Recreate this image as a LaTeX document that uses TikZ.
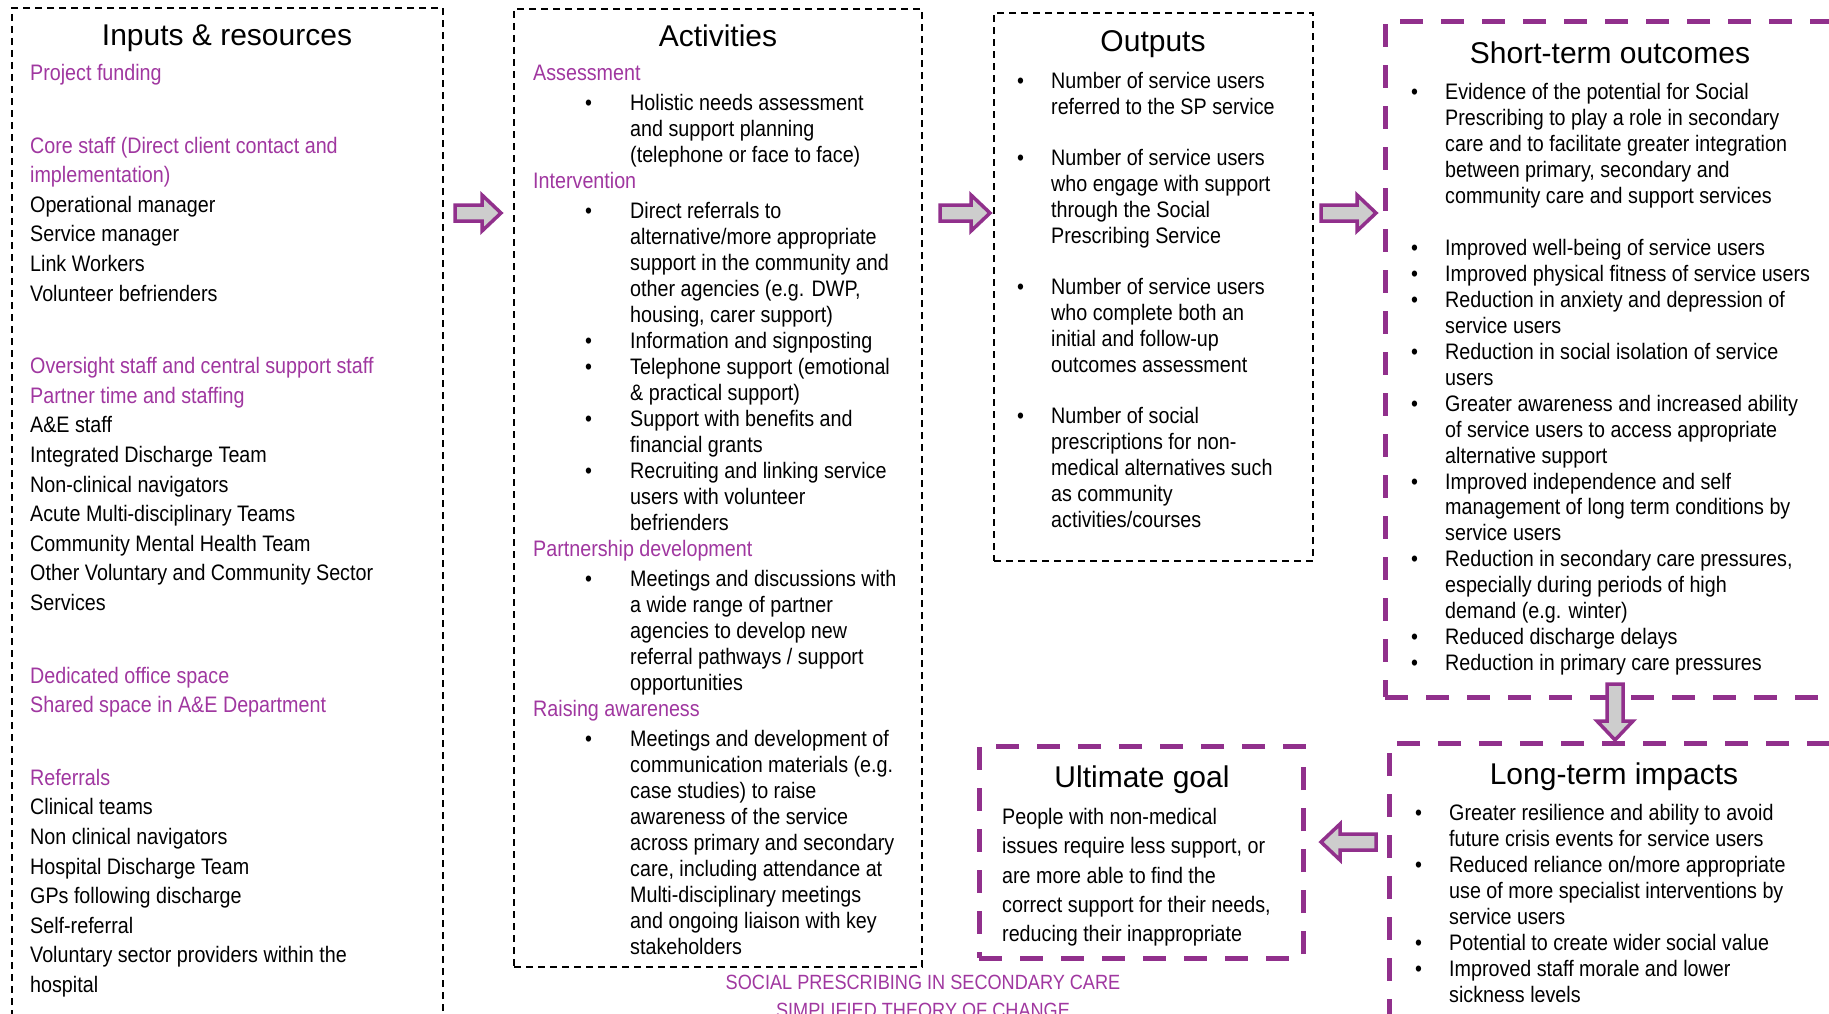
\documentclass[tikz,border=0pt]{standalone}
\usepackage{fontspec}
\setmainfont{Liberation Sans}[FakeStretch=0.88]
\newfontfamily\ttlfont{Liberation Sans}
\usepackage{xcolor}
\usepackage{tikz}
\usetikzlibrary{calc}

\definecolor{hdpurple}{RGB}{160,55,160}
\definecolor{boxpurple}{RGB}{145,48,140}
\definecolor{arrgray}{RGB}{205,205,205}

\newlength{\bulin}
\newlength{\bulwd}
\newcommand{\purp}[1]{\textcolor{hdpurple}{#1}}
\newcommand{\bitem}{\hspace*{\bulin}\makebox[\bulwd][l]{\textbullet}}
\newcommand{\bcont}{\hspace*{\bulin}\hspace*{\bulwd}}
\newcommand{\blockarrow}[2]{%
  \coordinate (hb) at ($(#2)!19bp!(#1)$);
  \draw[barr] ($(#1)!8bp!90:(#2)$) -- ($(hb)!8bp!90:(#2)$) -- ($(hb)!18bp!90:(#2)$)
    -- (#2) -- ($(hb)!18bp!-90:(#2)$) -- ($(hb)!8bp!-90:(#2)$)
    -- ($(#1)!8bp!-90:(#2)$) -- cycle;}

\begin{document}
\begin{tikzpicture}[x=1bp,y=-1bp,
  tbox/.style={draw,dash pattern=on 7bp off 5bp,line width=1.6bp,anchor=north west,inner sep=0pt,outer sep=0pt},
  pbox/.style={draw=boxpurple,dash pattern=on 23bp off 18bp,line width=5bp,anchor=north west,inner sep=0pt,outer sep=0pt},
  ttl/.style={anchor=base,inner sep=0pt,font=\ttlfont\fontsize{30bp}{36bp}\selectfont},
  txt/.style={anchor=north west,align=left,inner sep=0pt,font=\fontsize{22.4bp}{26bp}\selectfont,
    execute at begin node={\rule{0pt}{20bp}}},
  lst/.style 2 args={txt,execute at begin node={\global\bulin=#1\global\bulwd=#2\rule{0pt}{20bp}}},
  barr/.style={draw=boxpurple,fill=arrgray,line width=3.5bp}]
\path[use as bounding box,fill=white] (0,0) rectangle (1829,1013);
\clip (0,0) rectangle (1829,1013);

\node[tbox,minimum width=431bp,minimum height=1040bp] (inp) at (12,8) {};
\node[tbox,minimum width=408bp,minimum height=958bp] (act) at (514,9) {};
\node[tbox,minimum width=319bp,minimum height=548bp] (outp) at (994,13) {};
\node[pbox,minimum width=460bp,minimum height=676bp] (short) at (1385,21) {};
\node[pbox,minimum width=460bp,minimum height=300bp] (long) at (1389,743) {};
\node[pbox,minimum width=324bp,minimum height=212bp] (goal) at (979,746) {};

\coordinate (a1s) at ($(inp.north east)+(12,205)$);
\coordinate (a1e) at ($(act.north west)+(-13,204)$);
\coordinate (a2s) at ($(act.north east)+(18,204)$);
\coordinate (a2e) at ($(outp.north west)+(-4,200)$);
\coordinate (a3s) at ($(outp.north east)+(8,200)$);
\coordinate (a3e) at ($(short.north west)+(-9,192)$);
\coordinate (a4s) at ($(short.south west)+(230,-13)$);
\coordinate (a4e) at ($(long.north west)+(226,-3)$);
\coordinate (a5s) at ($(long.north west)+(-13,99)$);
\coordinate (a5e) at ($(goal.north east)+(18,96)$);
\blockarrow{a1s}{a1e}
\blockarrow{a2s}{a2e}
\blockarrow{a3s}{a3e}
\blockarrow{a4s}{a4e}
\blockarrow{a5s}{a5e}

\node[ttl] (inptit) at (227,45) {Inputs \& resources};
\node[ttl] (acttit) at (718,46) {Activities};
\node[ttl] (outtit) at (1153,51) {Outputs};
\node[ttl] (shorttit) at (1610,63) {Short-term outcomes};
\node[ttl] (longtit) at (1614,784) {Long-term impacts};
\node[ttl] (goaltit) at (1142,787) {Ultimate goal};

\node[txt,font=\fontsize{22.4bp}{29.6bp}\selectfont] (inptxt) at (30,64) {%
  \purp{Project funding}\\[43bp]
  \purp{Core staff (Direct client contact and}\\
  \purp{implementation)}\\
  Operational manager\\
  Service manager\\
  Link Workers\\
  Volunteer befrienders\\[43bp]
  \purp{Oversight staff and central support staff}\\
  \purp{Partner time and staffing}\\
  A\&E staff\\
  Integrated Discharge Team\\
  Non-clinical navigators\\
  Acute Multi-disciplinary Teams\\
  Community Mental Health Team\\
  Other Voluntary and Community Sector\\
  Services\\[43bp]
  \purp{Dedicated office space}\\
  \purp{Shared space in A\&E Department}\\[43bp]
  \purp{Referrals}\\
  Clinical teams\\
  Non clinical navigators\\
  Hospital Discharge Team\\
  GPs following discharge\\
  Self-referral\\
  Voluntary sector providers within the\\
  hospital};

\node[lst={52bp}{45bp}] (acttxt) at (533,65) {%
  \purp{Assessment}\\[4bp]
  \bitem Holistic needs assessment\\
  \bcont and support planning\\
  \bcont (telephone or face to face)\\
  \purp{Intervention}\\[4bp]
  \bitem Direct referrals to\\
  \bcont alternative/more appropriate\\
  \bcont support in the community and\\
  \bcont other agencies (e.g. DWP,\\
  \bcont housing, carer support)\\
  \bitem Information and signposting\\
  \bitem Telephone support (emotional\\
  \bcont \& practical support)\\
  \bitem Support with benefits and\\
  \bcont financial grants\\
  \bitem Recruiting and linking service\\
  \bcont users with volunteer\\
  \bcont befrienders\\
  \purp{Partnership development}\\[4bp]
  \bitem Meetings and discussions with\\
  \bcont a wide range of partner\\
  \bcont agencies to develop new\\
  \bcont referral pathways / support\\
  \bcont opportunities\\
  \purp{Raising awareness}\\[4bp]
  \bitem Meetings and development of\\
  \bcont communication materials (e.g.\\
  \bcont case studies) to raise\\
  \bcont awareness of the service\\
  \bcont across primary and secondary\\
  \bcont care, including attendance at\\
  \bcont Multi-disciplinary meetings\\
  \bcont and ongoing liaison with key\\
  \bcont stakeholders};

\node[lst={0bp}{34bp},font=\fontsize{22.4bp}{25.8bp}\selectfont] (outtxt) at (1017,72) {%
  \bitem Number of service users\\
  \bcont referred to the SP service\\[25.8bp]
  \bitem Number of service users\\
  \bcont who engage with support\\
  \bcont through the Social\\
  \bcont Prescribing Service\\[25.8bp]
  \bitem Number of service users\\
  \bcont who complete both an\\
  \bcont initial and follow-up\\
  \bcont outcomes assessment\\[25.8bp]
  \bitem Number of social\\
  \bcont prescriptions for non-\\
  \bcont medical alternatives such\\
  \bcont as community\\
  \bcont activities/courses};

\node[lst={0bp}{34bp},font=\fontsize{22.4bp}{25.9bp}\selectfont] (shorttxt) at (1411,83) {%
  \bitem Evidence of the potential for Social\\
  \bcont Prescribing to play a role in secondary\\
  \bcont care and to facilitate greater integration\\
  \bcont between primary, secondary and\\
  \bcont community care and support services\\[27bp]
  \bitem Improved well-being of service users\\
  \bitem Improved physical fitness of service users\\
  \bitem Reduction in anxiety and depression of\\
  \bcont service users\\
  \bitem Reduction in social isolation of service\\
  \bcont users\\
  \bitem Greater awareness and increased ability\\
  \bcont of service users to access appropriate\\
  \bcont alternative support\\
  \bitem Improved independence and self\\
  \bcont management of long term conditions by\\
  \bcont service users\\
  \bitem Reduction in secondary care pressures,\\
  \bcont especially during periods of high\\
  \bcont demand (e.g. winter)\\
  \bitem Reduced discharge delays\\
  \bitem Reduction in primary care pressures};

\node[lst={0bp}{34bp}] (longtxt) at (1415,804) {%
  \bitem Greater resilience and ability to avoid\\
  \bcont future crisis events for service users\\
  \bitem Reduced reliance on/more appropriate\\
  \bcont use of more specialist interventions by\\
  \bcont service users\\
  \bitem Potential to create wider social value\\
  \bitem Improved staff morale and lower\\
  \bcont sickness levels};

\node[txt,font=\fontsize{22.4bp}{29.3bp}\selectfont] (goaltxt) at (1002,808) {%
  People with non-medical\\
  issues require less support, or\\
  are more able to find the\\
  correct support for their needs,\\
  reducing their inappropriate};

\node[anchor=base,align=center,inner sep=0pt,text=hdpurple,
  font=\fontsize{20.6bp}{28bp}\selectfont] (cap) at (923,1017) {%
  SOCIAL PRESCRIBING IN SECONDARY CARE\\
  SIMPLIFIED THEORY OF CHANGE};
\end{tikzpicture}
\end{document}
